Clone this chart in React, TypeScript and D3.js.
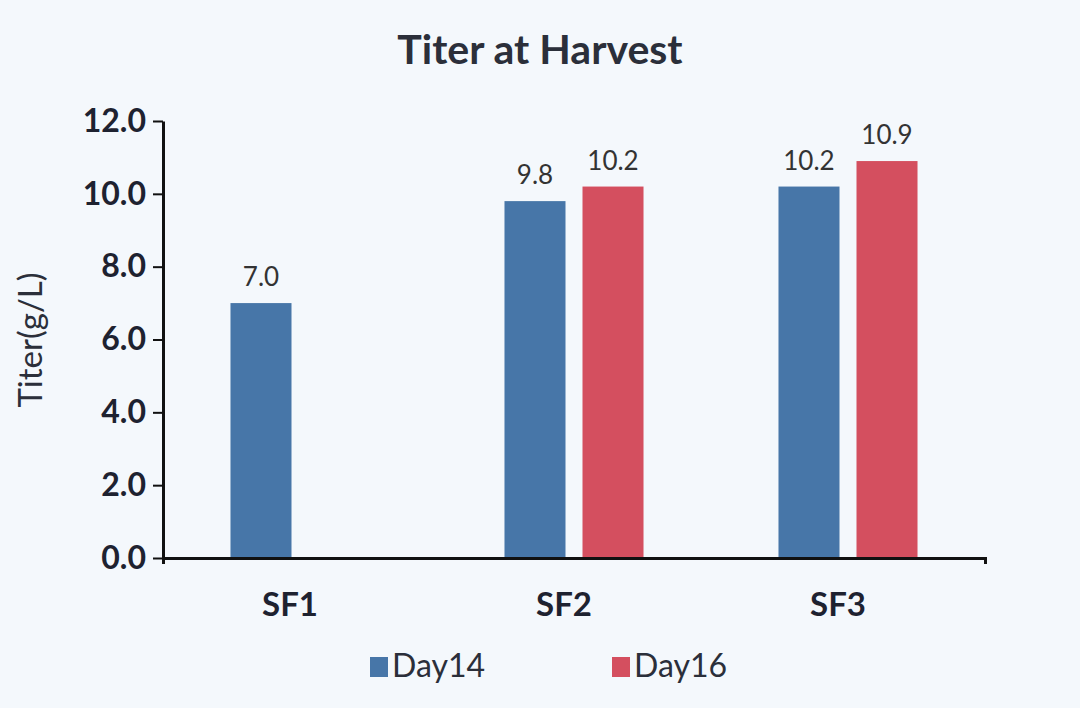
import { useRef, useEffect } from "react";
import * as d3 from "d3";

const categories = ["SF1", "SF2", "SF3"];
const seriesNames = ["Day 14", "Day 16"];
const day14 = [7.0, 9.8, 10.2];
const day16: (number | null)[] = [null, 10.2, 10.9];
const yTicks = [0, 2, 4, 6, 8, 10, 12];
const colors = ["#4776a8", "#d44f5f"];

const W = 1080;
const H = 708;

const App = () => {
  const svgRef = useRef<SVGSVGElement>(null);

  useEffect(() => {
    if (!svgRef.current) return;
    const svg = d3.select(svgRef.current);
    svg.selectAll("*").remove();
    const font = "Lato, 'Open Sans', sans-serif";

    svg.append("rect").attr("width", W).attr("height", H).attr("fill", "#f4f8fc");

    const x = d3.scaleBand<string>().domain(categories).range([163, 985]);
    const inner = d3.scaleBand<string>().domain(seriesNames).range([0, x.bandwidth()]).paddingInner(0.218).paddingOuter(0.865);
    const y = d3.scaleLinear().domain([0, 12]).range([558, 121]);

    svg.append("text").attr("x", 540).attr("y", 64).attr("text-anchor", "middle")
      .attr("font-family", font).attr("font-weight", 700).attr("font-size", 41)
      .attr("fill", "#2b2f3a").text("Titer at Harvest");

    const rows = categories.map((c, i) => ({ c, vals: [day14[i], day16[i]] }));
    rows.forEach((r) => {
      r.vals.forEach((v, j) => {
        if (v == null) return;
        const bx = (x(r.c) ?? 0) + (inner(seriesNames[j]) ?? 0);
        svg.append("rect").attr("x", bx).attr("y", y(v)).attr("width", inner.bandwidth())
          .attr("height", y(0) - y(v)).attr("fill", colors[j]);
        svg.append("text").attr("x", bx + inner.bandwidth() / 2).attr("y", y(v) - 17)
          .attr("text-anchor", "middle").attr("font-family", font).attr("font-size", 26)
          .attr("fill", "#333").text(v.toFixed(1));
      });
    });

    const yAxis = svg.append("g").attr("transform", "translate(163,0)")
      .call(d3.axisLeft(y).tickValues(yTicks).tickFormat((d) => (d as number).toFixed(1)).tickSize(10).tickSizeOuter(0));
    yAxis.select(".domain").attr("stroke", "#111").attr("stroke-width", 3);
    yAxis.selectAll(".tick line").attr("stroke", "#111").attr("stroke-width", 2);
    yAxis.selectAll(".tick text").attr("font-family", font).attr("font-weight", 700)
      .attr("font-size", 32).attr("fill", "#1e2230").attr("x", -17);

    const xAxis = svg.append("g").attr("transform", "translate(0,558)")
      .call(d3.axisBottom(x).tickSize(0).tickSizeOuter(6));
    xAxis.select(".domain").attr("stroke", "#111").attr("stroke-width", 3);
    xAxis.selectAll(".tick text").attr("font-family", font).attr("font-weight", 700)
      .attr("font-size", 33).attr("fill", "#1e2230").attr("dy", 0).attr("y", 58)
      .attr("dx", -10);

    svg.append("text").attr("transform", "translate(42,340) rotate(-90)").attr("text-anchor", "middle")
      .attr("font-family", font).attr("font-size", 33).attr("fill", "#2b2f3a").text("Titer(g/L)");

    const lx = [370, 612];
    seriesNames.forEach((s, i) => {
      svg.append("rect").attr("x", lx[i]).attr("y", 657).attr("width", 18).attr("height", 20).attr("fill", colors[i]);
      svg.append("text").attr("x", lx[i] + 22).attr("y", 677).attr("font-family", font)
        .attr("font-size", 32).attr("fill", "#2b2f3a").text(s.replace(" ", ""));
    });
  }, []);

  return <svg ref={svgRef} width={W} height={H} style={{ position: "absolute", left: 0, top: 0 }} />;
};

export default App;
